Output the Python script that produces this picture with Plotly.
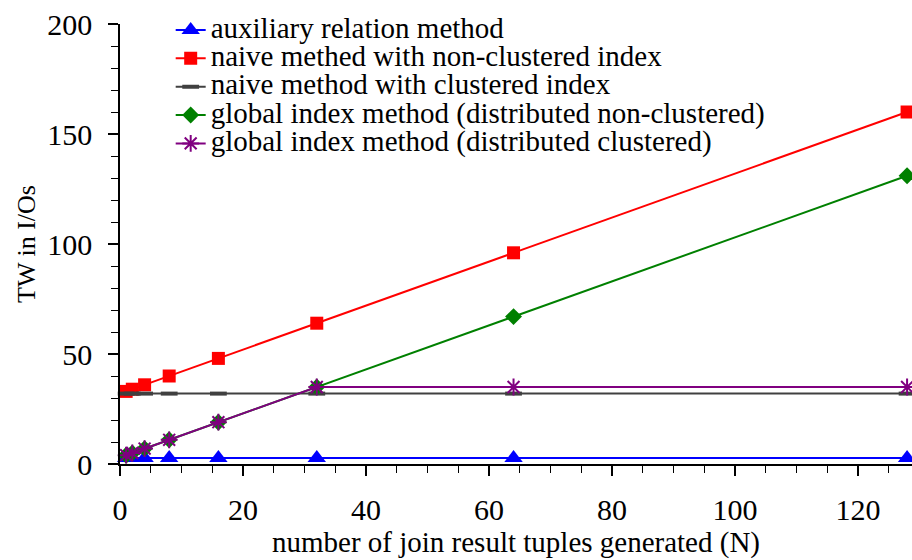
import plotly.graph_objects as go

n_values = [1, 2, 4, 8, 16, 32, 64, 128]
auxiliary = [2.7, 2.7, 2.7, 2.7, 2.7, 2.7, 2.7, 2.7]
naive_nonclustered = [33, 34, 36, 40, 48, 64, 96, 160]
naive_clustered = [32, 32, 32, 32, 32, 32, 32, 32]
global_nonclustered = [4, 5, 7, 11, 19, 35, 67, 131]
global_clustered = [4, 5, 7, 11, 19, 35, 35, 35]

names = [
    "auxiliary relation method",
    "naive methed with non-clustered index",
    "naive method with clustered index",
    "global index method (distributed non-clustered)",
    "global index method (distributed clustered)",
]
x_ticks = [0, 20, 40, 60, 80, 100, 120]
y_ticks = [0, 50, 100, 150, 200]

FONT = "Liberation Serif"
LEG = lambda s: '<span style="font-size:29px">' + s + '</span>'

fig = go.Figure()
fig.add_trace(go.Scatter(x=n_values, y=auxiliary, name=LEG(names[0]), mode="lines+markers",
                         line=dict(color="#0000ff", width=2),
                         marker=dict(symbol="triangle-up", size=16, color="#0000ff")))
fig.add_trace(go.Scatter(x=n_values, y=naive_nonclustered, name=LEG(names[1]), mode="lines+markers",
                         line=dict(color="#ff0000", width=2),
                         marker=dict(symbol="square", size=13, color="#ff0000")))
fig.add_trace(go.Scatter(x=n_values, y=naive_clustered, name=LEG(names[2]), mode="lines+markers",
                         line=dict(color="#404040", width=2),
                         marker=dict(symbol="line-ew", size=12, color="#404040",
                                     line=dict(color="#404040", width=4))))
fig.add_trace(go.Scatter(x=n_values, y=global_nonclustered, name=LEG(names[3]), mode="lines+markers",
                         line=dict(color="#008000", width=2),
                         marker=dict(symbol="diamond", size=13, color="#008000")))
fig.add_trace(go.Scatter(x=n_values, y=global_clustered, name=LEG(names[4]), mode="lines+markers",
                         line=dict(color="#800080", width=2),
                         marker=dict(symbol="asterisk-open", size=14, color="#800080",
                                     line=dict(color="#800080", width=2))))

fig.update_traces(cliponaxis=False)

fig.update_layout(
    width=912, height=560,
    margin=dict(l=120, r=0, t=24, b=96),
    plot_bgcolor="white", paper_bgcolor="white",
    font=dict(family=FONT, size=28, color="black"),
    legend=dict(x=0.064, y=1.03, xanchor="left", yanchor="top",
                bgcolor="rgba(0,0,0,0)", font=dict(family=FONT, size=19.5),
                tracegroupgap=0),
    showlegend=True,
)
fig.update_xaxes(
    range=[0, 128.8], tickvals=x_ticks,
    showline=True, linecolor="black", linewidth=1.5,
    ticks="outside", ticklen=10, tickcolor="black", tickwidth=1.5,
    tickfont=dict(family=FONT, size=30), ticklabelstandoff=8,
    minor=dict(dtick=5, ticks="outside", ticklen=7, tickcolor="black", tickwidth=1, showgrid=False),
    showgrid=False, zeroline=False,
    title=dict(text="number of join result tuples generated (N)", font=dict(family=FONT, size=29), standoff=0),
)
fig.update_yaxes(
    range=[0, 200], tickvals=y_ticks,
    showline=True, linecolor="black", linewidth=1.5,
    ticks="outside", ticklen=10, tickcolor="black", tickwidth=1.5,
    tickfont=dict(family=FONT, size=30), ticklabelstandoff=10,
    minor=dict(dtick=10, ticks="outside", ticklen=7, tickcolor="black", tickwidth=1, showgrid=False),
    showgrid=False, zeroline=False,
    title=dict(text="TW in I/Os", font=dict(family=FONT, size=26), standoff=4),
)

fig.write_html("out.html")
